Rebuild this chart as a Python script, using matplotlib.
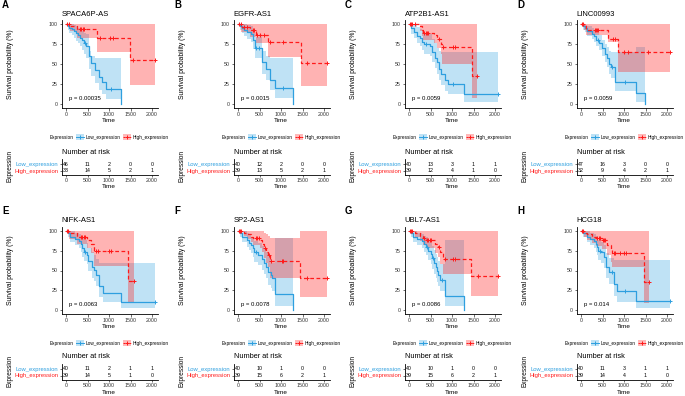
import matplotlib
matplotlib.use("Agg")
import matplotlib.pyplot as plt
from matplotlib.patches import Rectangle
import numpy as np

plt.rcParams['font.family'] = ['Liberation Sans', 'DejaVu Sans']

genes = ["SPACA6P-AS", "EGFR-AS1", "ATP2B1-AS1", "LINC00993",
         "NIFK-AS1", "SP2-AS1", "UBL7-AS1", "HCG18"]
letters = ["A", "B", "C", "D", "E", "F", "G", "H"]
pvals = ["p = 0.00035", "p = 0.0015", "p = 0.0059", "p = 0.0059",
         "p = 0.0063", "p = 0.0078", "p = 0.0086", "p = 0.014"]
groups = ["Low_expression", "High_expression"]

risk_times = [0, 500, 1000, 1500, 2000]
risk_low = [[46, 11, 2, 0, 0], [40, 12, 2, 0, 0], [40, 13, 3, 1, 1], [47, 16, 3, 0, 0],
            [40, 11, 2, 1, 1], [40, 10, 1, 0, 0], [40, 10, 1, 0, 0], [40, 11, 3, 1, 1]]
risk_high = [[33, 14, 5, 2, 1], [39, 13, 5, 2, 1], [39, 12, 4, 1, 0], [32, 9, 4, 2, 1],
             [39, 14, 5, 1, 0], [39, 15, 6, 2, 1], [39, 15, 6, 2, 1], [39, 14, 4, 1, 0]]

# low expression group: step times, survival %, CI lower / upper, censor times
low_time = [
    [0, 40, 80, 130, 180, 230, 280, 330, 380, 420, 470, 545, 580, 680, 760, 830, 930, 1270],
    [0, 40, 90, 150, 210, 300, 360, 400, 555, 655, 745, 860, 1285],
    [0, 50, 120, 190, 250, 300, 350, 480, 530, 600, 650, 700, 750, 830, 900, 1270, 2070],
    [0, 50, 100, 150, 250, 300, 350, 430, 480, 560, 610, 650, 700, 780, 1280, 1490],
    [0, 50, 100, 200, 300, 350, 380, 410, 480, 520, 600, 660, 700, 760, 860, 1270, 2070],
    [0, 50, 100, 200, 250, 300, 350, 380, 470, 550, 600, 650, 700, 760, 800, 860, 1270],
    [0, 50, 100, 180, 300, 350, 400, 450, 500, 540, 580, 620, 660, 680, 720, 830, 1270],
    [0, 50, 150, 200, 300, 350, 380, 400, 470, 540, 580, 660, 760, 830, 1270, 2070],
]
low_surv = [
    [100, 97.8, 95.6, 93.4, 91, 88.5, 86, 83, 80, 76, 72, 60, 51, 42, 34, 27, 18.5, 0],
    [100, 97.5, 95, 92.5, 90, 87, 80, 70, 52, 44, 30, 20, 0],
    [100, 95, 90, 85, 82, 78, 75, 72, 65, 58, 52, 44, 38, 30, 25, 12.5, 12.5],
    [100, 97, 95, 91, 88, 85, 80, 76, 70, 63, 58, 50, 46, 28, 14, 0],
    [100, 97, 93, 90, 87, 83, 78, 74, 70, 62, 54, 51, 44, 30, 21, 10, 10],
    [100, 97, 93, 88, 85, 82, 78, 73, 70, 65, 60, 55, 48, 44, 40, 20, 0],
    [100, 97, 93, 90, 87, 83, 80, 75, 71, 66, 60, 54, 49, 44, 38, 18, 0],
    [100, 97, 93, 90, 87, 83, 80, 75, 73, 67, 55, 48, 33, 24, 12, 12],
]
low_lower = [
    [100, 93, 89, 86, 82, 79, 76, 72, 68, 63, 58, 44, 35, 26, 18, 12, 6, 6],
    [100, 93, 89, 85, 81, 77, 69, 58, 38, 30, 17, 8, 8],
    [100, 88, 82, 76, 72, 67, 63, 60, 52, 45, 38, 30, 24, 16, 12, 3, 3],
    [100, 93, 90, 85, 81, 77, 72, 67, 60, 52, 46, 38, 33, 16, 3, 3],
    [100, 92, 86, 82, 78, 73, 67, 62, 58, 49, 40, 37, 30, 17, 10, 2, 2],
    [100, 92, 86, 80, 76, 72, 67, 61, 57, 51, 45, 40, 32, 28, 24, 5, 5],
    [100, 92, 86, 82, 78, 73, 69, 63, 58, 52, 46, 40, 35, 30, 24, 5, 5],
    [100, 92, 86, 82, 78, 73, 69, 63, 60, 53, 40, 33, 18, 10, 3, 3],
]
low_upper = [
    [100, 100, 100, 100, 99, 97, 95, 93, 91, 89, 87, 66, 60, 57, 57, 57, 57, 57],
    [100, 100, 100, 100, 99, 97, 92, 84, 66, 60, 58, 58, 58],
    [100, 100, 99, 96, 94, 91, 89, 87, 81, 76, 70, 66, 65, 65, 65, 65, 65],
    [100, 100, 99, 97, 95, 93, 89, 86, 80, 75, 71, 66, 65, 65, 71, 71],
    [100, 100, 100, 98, 96, 94, 91, 88, 85, 79, 73, 70, 64, 60, 60, 60, 60],
    [100, 100, 100, 97, 95, 93, 90, 87, 85, 81, 77, 73, 68, 64, 60, 91, 91],
    [100, 100, 100, 98, 96, 94, 92, 88, 85, 81, 76, 71, 67, 62, 58, 88, 88],
    [100, 100, 100, 98, 96, 94, 92, 88, 86, 82, 72, 66, 63, 63, 63, 63],
]
low_censor = [[450, 1050], [430, 490, 1040], [400, 1030, 2070], [400, 720, 1020],
              [440, 2070], [430], [420, 560, 760], [450, 720, 1030, 2070]]

# high expression group
high_time = [
    [0, 100, 250, 715, 1480, 2070],
    [0, 80, 280, 420, 700, 1470, 2070],
    [0, 250, 300, 330, 580, 660, 740, 770, 1460, 1580],
    [0, 60, 120, 630, 860, 2070],
    [0, 80, 250, 480, 570, 640, 1450, 1590],
    [0, 150, 200, 300, 350, 500, 560, 600, 650, 700, 740, 1450, 2070],
    [0, 150, 250, 330, 400, 600, 680, 730, 780, 1450, 2070],
    [0, 80, 150, 250, 350, 480, 600, 700, 730, 1460, 1580],
]
high_surv = [
    [100, 97, 93.5, 83, 55, 55],
    [100, 96, 92, 86.5, 77, 51, 51],
    [100, 97, 93, 89, 86, 81, 75, 71, 35, 35],
    [100, 97, 93, 81, 65, 65],
    [100, 97, 92, 88, 84, 75, 37, 37],
    [100, 98, 96, 93, 91, 88, 84, 78, 73, 70, 62, 41, 41],
    [100, 97, 94, 91, 88, 84, 80, 73, 65, 43, 43],
    [100, 98, 96, 93, 91, 88, 82, 76, 72, 36, 36],
]
high_lower = [
    [100, 91, 82, 65, 24, 24],
    [100, 90, 84, 76, 59, 22, 22],
    [100, 91, 85, 80, 76, 70, 62, 50, 8, 8],
    [100, 92, 86, 77, 40, 40],
    [100, 90, 84, 78, 72, 56, 9, 9],
    [100, 94, 90, 86, 82, 78, 73, 66, 60, 55, 40, 17, 17],
    [100, 92, 87, 82, 78, 72, 67, 58, 45, 18, 18],
    [100, 93, 89, 85, 81, 77, 69, 61, 55, 9, 9],
]
high_upper = [
    [100, 100, 100, 100, 100, 100],
    [100, 100, 100, 100, 100, 100, 100],
    [100, 100, 100, 100, 100, 100, 100, 100, 100, 100],
    [100, 100, 100, 100, 100, 100],
    [100, 100, 100, 100, 100, 100, 100, 100],
    [100, 100, 100, 100, 100, 100, 100, 98, 96, 94, 91, 100, 100],
    [100, 100, 100, 100, 100, 100, 100, 100, 100, 100, 100],
    [100, 100, 100, 100, 100, 100, 100, 100, 100, 100, 100],
]
high_censor = [
    [30, 60, 330, 360, 400, 430, 790, 1020, 1100, 1560, 2070],
    [20, 60, 150, 200, 350, 380, 450, 520, 600, 750, 1040, 1610, 2070],
    [20, 50, 80, 130, 360, 390, 420, 450, 700, 790, 1030, 1080, 1580],
    [20, 40, 320, 350, 380, 400, 740, 780, 1000, 1100, 1560, 2070],
    [20, 50, 350, 380, 420, 450, 700, 750, 1000, 1050, 1590],
    [20, 50, 80, 420, 450, 480, 620, 720, 770, 1020, 1050, 1600, 2070],
    [20, 50, 80, 350, 420, 450, 480, 520, 700, 830, 1030, 1060, 1600, 2070],
    [20, 50, 380, 420, 450, 500, 530, 560, 760, 800, 900, 1000, 1050, 1580],
]

BLUE = "#2E9FDF"
RED = "#FF1A1A"
W, H = 685, 396
K = 86 / 2000           # pixels per day
zero_x = [66, 238, 409, 581]
top100 = [24, 231]
zero_y = [104, 310]
tab_axis = [175, 380]


def step_at(t, s, c):
    idx = np.searchsorted(t, c, side="right") - 1
    return np.asarray(s)[idx]


fig = plt.figure(figsize=(W / 100, H / 100), dpi=100)
ov = fig.add_axes([0, 0, 1, 1])
ov.set_xlim(0, W)
ov.set_ylim(H, 0)
ov.axis("off")

for i in range(8):
    r, c = divmod(i, 4)
    x0 = zero_x[c]
    sc = (zero_y[r] - top100[r]) / 100
    left = x0 - 100 * K
    width = 2250 * K
    cx = left + width / 2

    ax = fig.add_axes([left / W, 1 - (zero_y[r] + 5 * sc) / H, width / W, 110 * sc / H])
    ax.fill_between(low_time[i], low_lower[i], low_upper[i], step="post",
                    color=BLUE, alpha=0.3, lw=0)
    ax.fill_between(high_time[i], high_lower[i], high_upper[i], step="post",
                    color=RED, alpha=0.33, lw=0)
    ax.step(low_time[i], low_surv[i], where="post", color=BLUE, lw=0.9)
    ax.step(high_time[i], high_surv[i], where="post", color=RED, lw=0.9, ls=(0, (3, 2)))
    ax.plot(low_censor[i], step_at(low_time[i], low_surv[i], low_censor[i]), "+",
            color=BLUE, ms=3.5, mew=0.7)
    ax.plot(high_censor[i], step_at(high_time[i], high_surv[i], high_censor[i]), "+",
            color=RED, ms=3.5, mew=0.7)
    ax.text(60, 7, pvals[i], fontsize=4.3, va="center", ha="left")
    ax.set_xlim(-100, 2150)
    ax.set_ylim(-5, 105)
    ax.set_xticks(risk_times)
    ax.set_yticks([0, 25, 50, 75, 100])
    ax.set_yticklabels(["0", "25", "50", "75", "100"])
    ax.tick_params(labelsize=3.8, length=1.8, width=0.5, pad=1, colors="#333333",
                   labelcolor="#333333")
    for sp in ["top", "right"]:
        ax.spines[sp].set_visible(False)
    for sp in ["left", "bottom"]:
        ax.spines[sp].set_linewidth(0.6)
    ax.patch.set_alpha(0)

    # risk table
    tb = fig.add_axes([left / W, 1 - tab_axis[r] / H, width / W, 16 / H])
    tb.set_xlim(-100, 2150)
    tb.set_ylim(0, 16)
    for j, tt in enumerate(risk_times):
        tb.text(tt, 11, str(risk_low[i][j]), ha="center", va="center", fontsize=3.8)
        tb.text(tt, 4.5, str(risk_high[i][j]), ha="center", va="center", fontsize=3.8)
    tb.set_xticks(risk_times)
    tb.set_yticks([11, 4.5])
    tb.set_yticklabels(groups)
    tb.tick_params(labelsize=3.8, length=1.5, width=0.5, pad=0.8, colors="#333333",
                   labelcolor="#333333")
    tb.tick_params(axis="y", labelsize=4.2)
    ylab = tb.get_yticklabels()
    ylab[0].set_color(BLUE)
    ylab[1].set_color(RED)
    for sp in ["top", "right"]:
        tb.spines[sp].set_visible(False)
    for sp in ["left", "bottom"]:
        tb.spines[sp].set_linewidth(0.6)
    tb.patch.set_alpha(0)

    # texts around the panel
    rowtop = 0 if r == 0 else 206
    ov.text(x0 - 64, rowtop + 4.5, letters[i], fontsize=7, fontweight="bold",
            ha="left", va="center")
    ov.text(left, rowtop + 14, genes[i], fontsize=5.5, ha="left", va="center")
    ov.text(x0 - 55, (top100[r] + zero_y[r]) / 2, "Survival probability (%)",
            fontsize=4.9, rotation=90, ha="center", va="center")
    ov.text(x0 + 1000 * K, zero_y[r] + 16, "Time", fontsize=4.6, ha="center", va="center")
    ov.text(left, tab_axis[r] - 23, "Number at risk", fontsize=5.3, ha="left", va="center")
    ov.text(x0 + 1000 * K, tab_axis[r] + 12, "Time", fontsize=4.6, ha="center", va="center")
    ov.text(x0 - 56, tab_axis[r] - 9, "Expression", fontsize=4.7, rotation=90,
            ha="center", va="center")

    # legend
    ly = zero_y[r] + 33
    ov.text(cx - 60, ly, "Expression", fontsize=3.4, ha="left", va="center")
    for kx, col, lab, dash in [(cx - 34, BLUE, groups[0], "-"),
                                (cx + 13, RED, groups[1], (0, (2, 1)))]:
        ov.add_patch(Rectangle((kx, ly - 3), 8, 6, color=col, alpha=0.3, lw=0))
        ov.plot([kx, kx + 8], [ly, ly], color=col, lw=0.7, ls=dash)
        ov.plot([kx + 4], [ly], "+", color=col, ms=3.5, mew=0.7)
        ov.text(kx + 10, ly, lab, fontsize=3.4, ha="left", va="center")

fig.savefig("out.png", dpi=100)
